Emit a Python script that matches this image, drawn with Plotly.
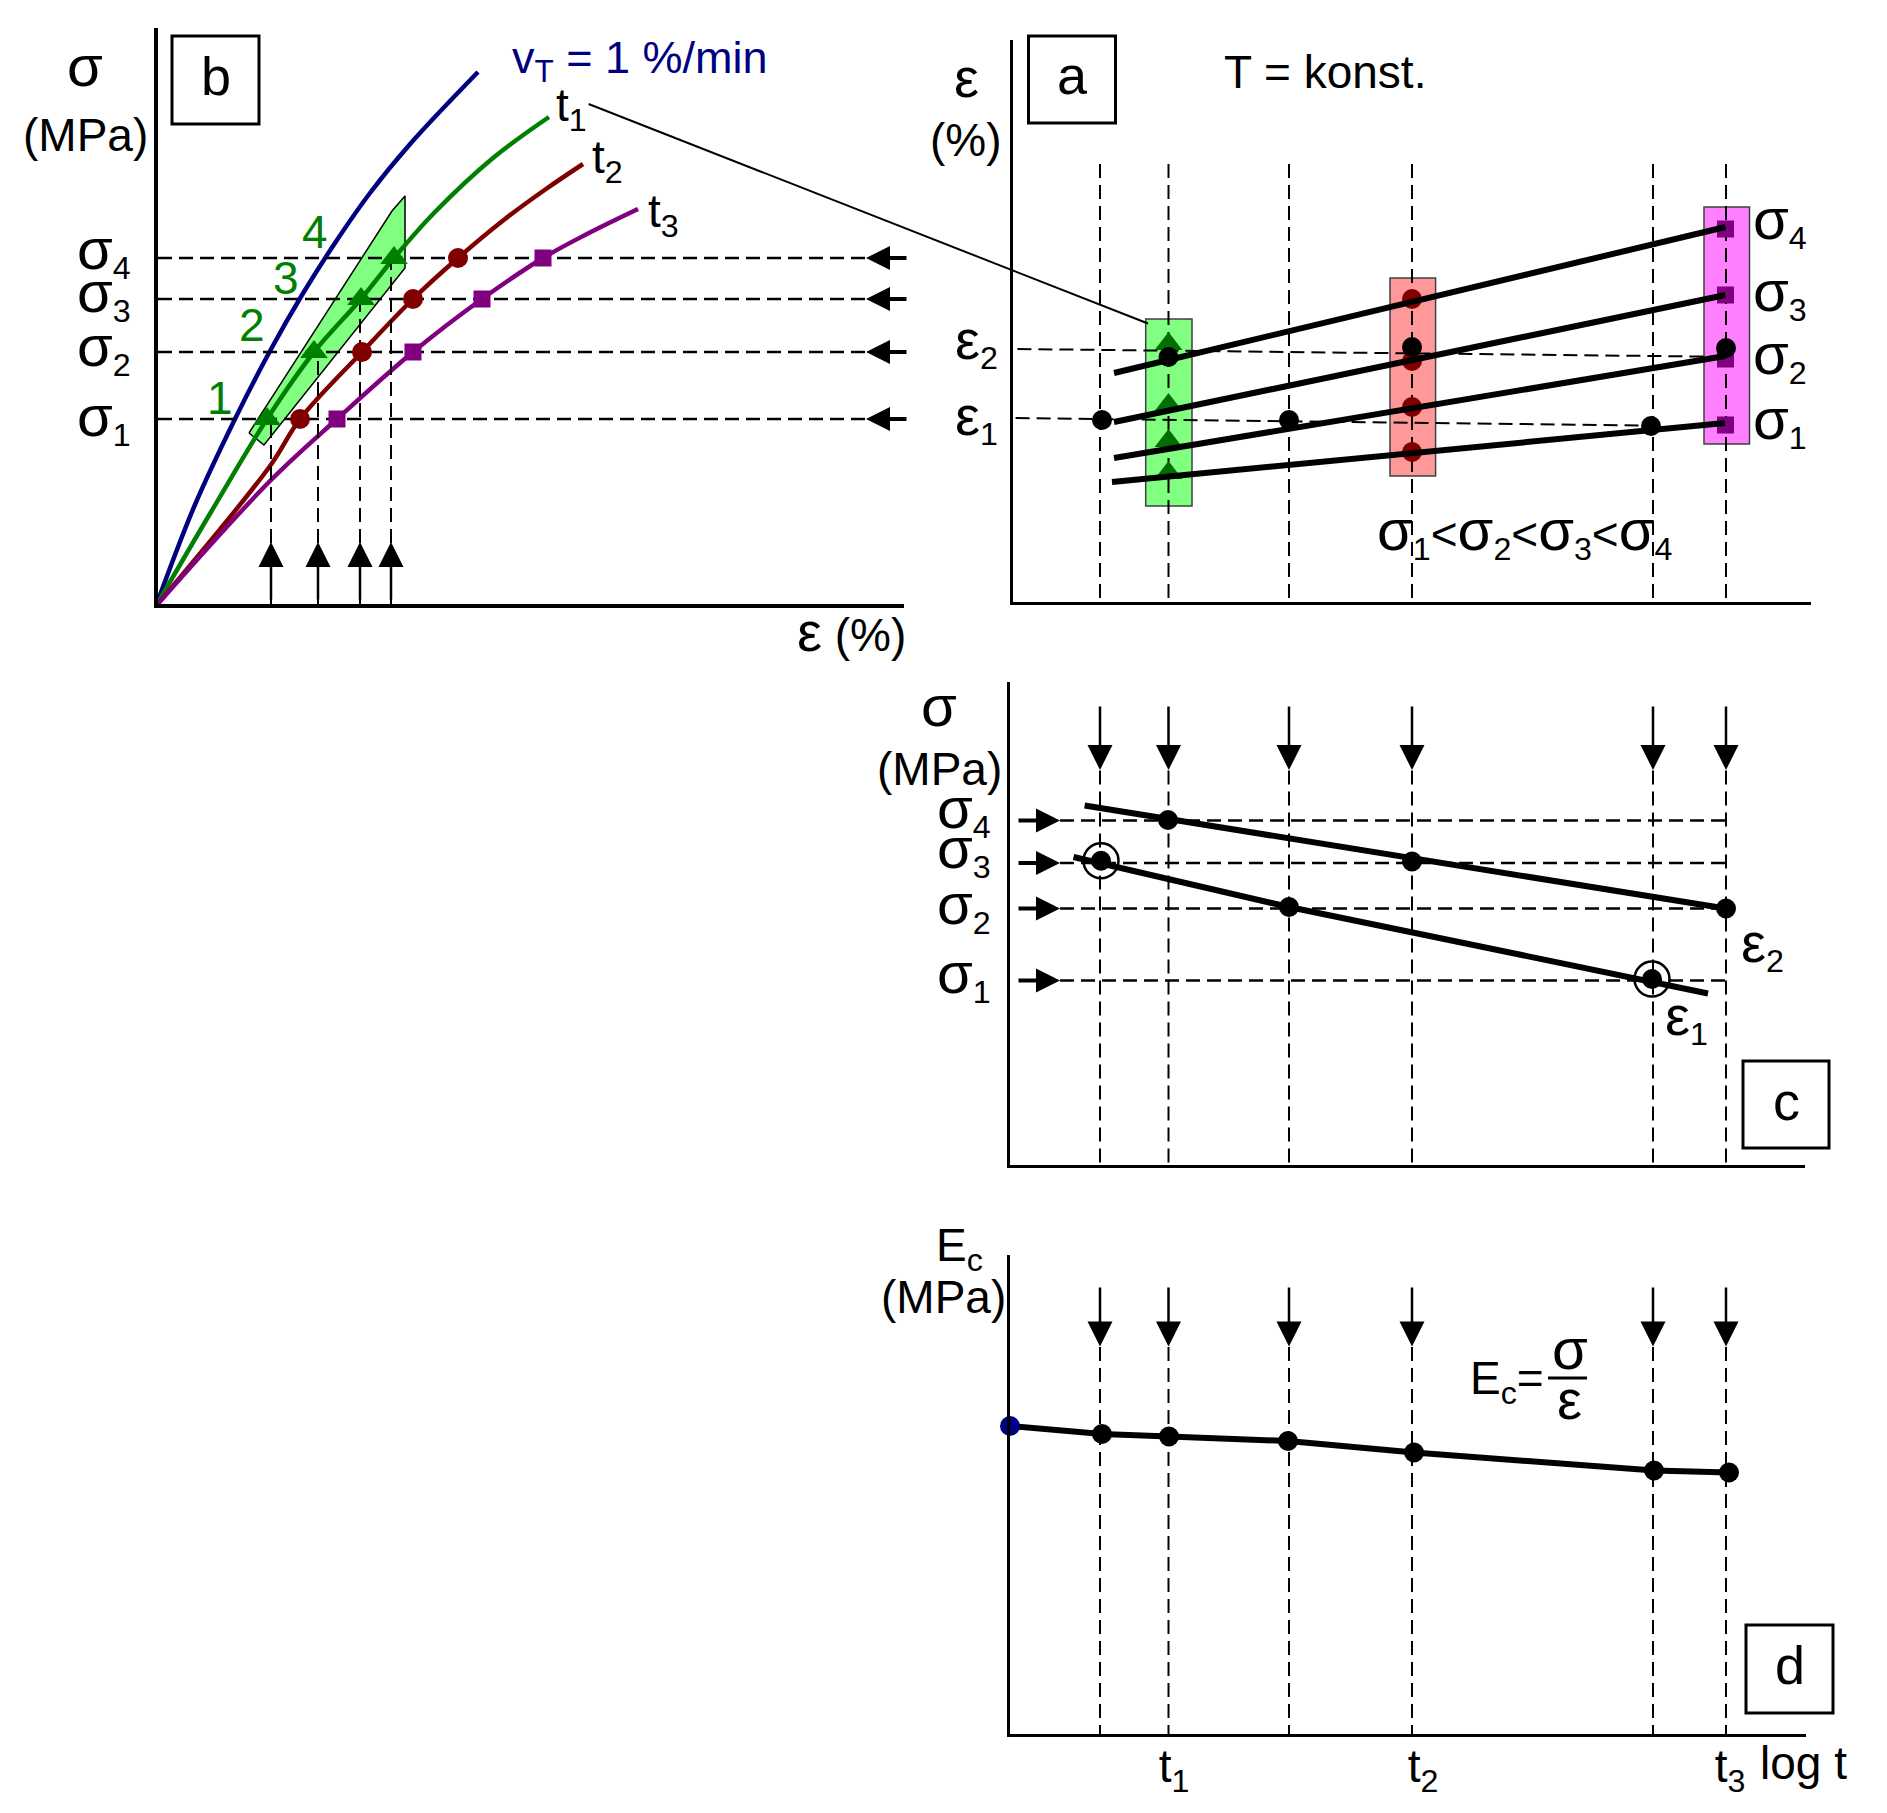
import plotly.graph_objects as go

W = 1887
H = 1813
# the page adds 8px around the plot, all layout numbers below are window pixels
PAD = 8
FIG_W = W - 2 * PAD
FIG_H = H - PAD

## panel b : stress-strain curves
b_blue_x = [0, 38, 79, 114, 146, 179, 214, 255, 322]
b_blue_y = [0, 99, 187, 255, 311, 363, 413, 463, 534]
b_green_x = [0, 55, 111, 158, 205, 238, 278, 337, 393]
b_green_y = [0, 94, 187, 254, 307, 348, 393, 448, 489]
b_red_x = [0, 114, 144, 206, 257, 302, 349, 390, 427]
b_red_y = [0, 140, 187, 254, 307, 348, 387, 417, 442]
b_purple_x = [0, 114, 181, 257, 326, 387, 431, 482]
b_purple_y = [0, 125, 187, 254, 307, 348, 372, 397]
b_band_x = [93, 108, 249, 249, 236, 93]
b_band_y = [173, 161, 338, 410, 395, 173]
b_levels = [187, 254, 307, 348]
b_tri_x = [111, 158, 205, 238]
b_red_pts_x = [144, 206, 257, 302]
b_purple_pts_x = [181, 257, 326, 387]
b_drop_x = [115, 162, 204, 235]

## panel a : creep curves
t_x = [91, 159.5, 280, 403, 644, 717]
a_s4_x = [105, 716.5]
a_s4_y = [230, 376]
a_s3_x = [105, 716.5]
a_s3_y = [181, 308]
a_s2_x = [105, 716.5]
a_s2_y = [145, 247]
a_s1_x = [103, 404, 716]
a_s1_y = [121, 150, 180]
a_tri_y = [259, 198, 162, 130]
a_circ_y = [304, 242, 196, 151]
a_sq_y = [374, 308, 244, 178]
a_e2_x = [159.5, 403, 717]
a_e2_y = [246, 256, 255]
a_e1_x = [93, 280, 642]
a_e1_y = [183, 183, 177]

## panel c : isochrones
c_levels = [344, 301.5, 256, 184]
c_e2_x = [75.6, 716.7]
c_e2_y = [359, 256]
c_e1_x = [64.5, 280, 699]
c_e1_y = [307.5, 257.5, 171]
c_dots_x = [159, 403, 717, 280]
c_dots_y = [344.5, 303, 256, 257.5]
c_ring_x = [92, 643]
c_ring_y = [303.7, 185.5]

## panel d : modulus
d_x = [1, 93, 160, 279, 405, 645, 720]
d_y = [308, 300, 297.5, 293, 281.5, 263.5, 261.5]
d_colors = ['#000080', 'black', 'black', 'black', 'black', 'black', 'black']
d_ticks = [165, 414, 721]
d_labels = ['t<sub>1</sub>', 't<sub>2</sub>', 't<sub>3</sub>']

FONT = 'Liberation Sans'
DASH = '14px,7px'
SIGMA = '<span style="font-size:58px">σ</span>'
EPS = '<span style="font-size:56px">ε</span>'

fig = go.Figure()


def px(x):
    return (x - PAD) / FIG_W


def py(y):
    return 1 - (y - PAD) / FIG_H


def line(ax, x, y, color='black', width=6, dash=None, shape='linear'):
    fig.add_trace(go.Scatter(x=x, y=y, xaxis='x' + ax, yaxis='y' + ax, mode='lines', cliponaxis=False,
                             line=dict(color=color, width=width, dash=dash, shape=shape), showlegend=False))


def dots(ax, x, y, color='black', size=20, symbol='circle'):
    fig.add_trace(go.Scatter(x=x, y=y, xaxis='x' + ax, yaxis='y' + ax, mode='markers', cliponaxis=False,
                             marker=dict(color=color, size=size, symbol=symbol), showlegend=False))


def arrow(ax, x, y, tail_x, tail_y, width=2.5, size=2):
    fig.add_annotation(x=x, y=y, ax=tail_x, ay=tail_y, xref='x' + ax, yref='y' + ax, axref='x' + ax, ayref='y' + ax,
                       text='', showarrow=True, arrowhead=2, arrowwidth=width, arrowsize=size, arrowcolor='black')


def label(x, y, text, size=46, color='black', anchor='left'):
    fig.add_annotation(x=px(x), y=py(y), xref='paper', yref='paper', text=text, showarrow=False,
                       xanchor=anchor, yanchor='middle', font=dict(family=FONT, size=size, color=color))


def box(x0, x1, y0, y1, letter):
    fig.add_shape(type='rect', xref='paper', yref='paper', x0=px(x0), x1=px(x1), y0=py(y0), y1=py(y1),
                  line=dict(color='black', width=3))
    label((x0 + x1) / 2, (y0 + y1) / 2 - 4, letter, size=54, anchor='center')


def axis(name, x0, x1, y0, y1, xr, yr, lw=3, **kw):
    common = dict(showgrid=False, zeroline=False, showline=True, linecolor='black', linewidth=lw)
    xa = dict(domain=[px(x0), px(x1)], range=xr, anchor='y' + name, showticklabels=False, ticks='', **common)
    xa.update(kw)
    fig.update_layout({'xaxis' + name: xa,
                       'yaxis' + name: dict(domain=[py(y1), py(y0)], range=yr, anchor='x' + name,
                                            showticklabels=False, ticks='', **common)})


## axes
axis('', 158, 904, 28, 604, [2, 748], [2, 578], lw=4)
axis('2', 1013, 1811, 40, 602, [4, 802], [1, 563])
axis('3', 1010, 1805, 682, 1164.5, [1, 796], [0, 482.5])
axis('4', 1010, 1806, 1255, 1734, [1, 797], [0, 479],
     showticklabels=True, tickmode='array', tickvals=d_ticks, ticktext=d_labels, ticklabelstandoff=-10,
     tickfont=dict(family=FONT, size=46, color='black'))

## panel b
fig.add_trace(go.Scatter(x=b_band_x, y=b_band_y, mode='lines', fill='toself', fillcolor='#80ff80',
                         line=dict(color='black', width=1.5), showlegend=False))
line('', b_blue_x, b_blue_y, '#000080', 4.5, shape='spline')
line('', b_green_x, b_green_y, '#008000', 4.5, shape='spline')
line('', b_red_x, b_red_y, '#800000', 4.5, shape='spline')
line('', b_purple_x, b_purple_y, '#800080', 4.5, shape='spline')
for lev in b_levels:
    line('', [2, 710], [lev, lev], width=2.5, dash=DASH)
    arrow('', 710, lev, 752, lev, width=4, size=1.2)
for xd, lev in zip(b_drop_x, b_levels):
    line('', [xd, xd], [0, lev], width=2, dash=DASH)
    arrow('', xd, 64, xd, 5)
dots('', b_tri_x, b_levels, '#008000', 24, 'triangle-up')
dots('', b_red_pts_x, b_levels, '#800000', 20)
dots('', b_purple_pts_x, b_levels, '#800080', 17, 'square')

## panel a
for x0, x1, y0, y1, col in [(136.7, 183, 97, 284, '#80ff80'), (381, 426.6, 127, 325, '#ff9999'),
                            (695, 740.5, 159, 396, '#ff80ff')]:
    fig.add_shape(type='rect', xref='x2', yref='y2', x0=x0, x1=x1, y0=y0, y1=y1, fillcolor=col, layer='below',
                  line=dict(color='#404040', width=1.5))
for xt in t_x:
    line('2', [xt, xt], [439, -102], width=2, dash=DASH)
line('2', [8.4, 706.5], [254, 246.3], width=2, dash=DASH)
line('2', [6.6, 639], [185, 177.5], width=2, dash=DASH)
dots('2', [t_x[1]] * 4, a_tri_y, '#006e00', 24, 'triangle-up')
dots('2', [t_x[3]] * 4, a_circ_y, '#800000', 20)
dots('2', [716.5] * 4, a_sq_y, '#800080', 17, 'square')
line('2', a_s4_x, a_s4_y)
line('2', a_s3_x, a_s3_y)
line('2', a_s2_x, a_s2_y)
line('2', a_s1_x, a_s1_y)
dots('2', a_e2_x, a_e2_y)
dots('2', a_e1_x, a_e1_y)

## panel c
for xt in t_x:
    line('3', [xt, xt], [394, -121], width=2, dash=DASH)
    arrow('3', xt, 394.5, xt, 459.5)
for lev in c_levels:
    line('3', [51, 716.7], [lev, lev], width=2.5, dash=DASH)
    arrow('3', 51, lev, 8, lev, width=4, size=1.2)
line('3', c_e2_x, c_e2_y)
line('3', c_e1_x, c_e1_y)
dots('3', c_dots_x, c_dots_y)
dots('3', c_ring_x, c_ring_y)
fig.add_trace(go.Scatter(x=c_ring_x, y=c_ring_y, xaxis='x3', yaxis='y3', mode='markers', cliponaxis=False,
                         marker=dict(color='rgba(0,0,0,0)', size=35, line=dict(color='black', width=2.5)),
                         showlegend=False))

## panel d
for xt in t_x:
    line('4', [xt, xt], [387, 0], width=2, dash=DASH)
    arrow('4', xt, 387.4, xt, 448)
line('4', d_x, d_y)
dots('4', d_x, d_y, d_colors)

## leader line and fraction bar
fig.add_shape(type='line', xref='paper', yref='paper', x0=px(588.6), y0=py(104), x1=px(1148), y1=py(323.5),
              line=dict(color='black', width=2))
fig.add_shape(type='line', xref='paper', yref='paper', x0=px(1548), y0=py(1378), x1=px(1587), y1=py(1378),
              line=dict(color='black', width=3))

## boxes
box(172, 259, 36, 124, 'b')
box(1028.5, 1115.5, 36, 123, 'a')
box(1743, 1829, 1061, 1148, 'c')
box(1746, 1833, 1625, 1713, 'd')

## texts b
label(85, 66, SIGMA, anchor='center')
label(85, 135, '(MPa)', anchor='center')
label(510, 60, 'v<sub>T</sub> = 1 %/min', size=45, color='#000080')
label(554, 108, 't<sub>1</sub>')
label(590, 160, 't<sub>2</sub>')
label(646, 215, 't<sub>3</sub>')
label(220, 398, '1', color='#008000', anchor='center')
label(252, 325, '2', color='#008000', anchor='center')
label(286, 278, '3', color='#008000', anchor='center')
label(315, 232, '4', color='#008000', anchor='center')
for yy, name in zip([418, 348, 294, 251], '1234'):
    label(75, yy, SIGMA + '<sub>%s</sub>' % name)
label(908, 632, EPS + ' (%)', anchor='right')

## texts a
label(966, 78, EPS, anchor='center')
label(966, 140, '(%)', anchor='center')
label(1222, 72, 'T = konst.')
label(953, 342, EPS + '<sub>2</sub>')
label(953, 418, EPS + '<sub>1</sub>')
for yy, name in zip([421, 356, 293, 221], '1234'):
    label(1751, yy, SIGMA + '<sub>%s</sub>' % name)
label(1375, 532, SIGMA + '<sub>1</sub>&lt;' + SIGMA + '<sub>2</sub>&lt;' + SIGMA + '<sub>3</sub>&lt;' + SIGMA + '<sub>4</sub>')

## texts c
label(939, 705, SIGMA, anchor='center')
label(939, 769, '(MPa)', anchor='center')
for yy, name in zip([975, 906, 850, 810], '1234'):
    label(935, yy, SIGMA + '<sub>%s</sub>' % name)
label(1739, 945, EPS + '<sub>2</sub>')
label(1663, 1018, EPS + '<sub>1</sub>')

## texts d
label(934, 1248, 'E<sub>c</sub>')
label(944, 1297, '(MPa)', anchor='center')
label(1468, 1381, 'E<sub>c</sub>=')
label(1570, 1348, SIGMA, anchor='center')
label(1569, 1399, EPS, anchor='center')
label(1758, 1763, 'log t')

fig.update_layout(width=FIG_W, height=FIG_H, autosize=False, margin=dict(l=0, r=0, t=0, b=0),
                  paper_bgcolor='white', plot_bgcolor='white', showlegend=False,
                  font=dict(family=FONT))

fig.write_html("out.html")
